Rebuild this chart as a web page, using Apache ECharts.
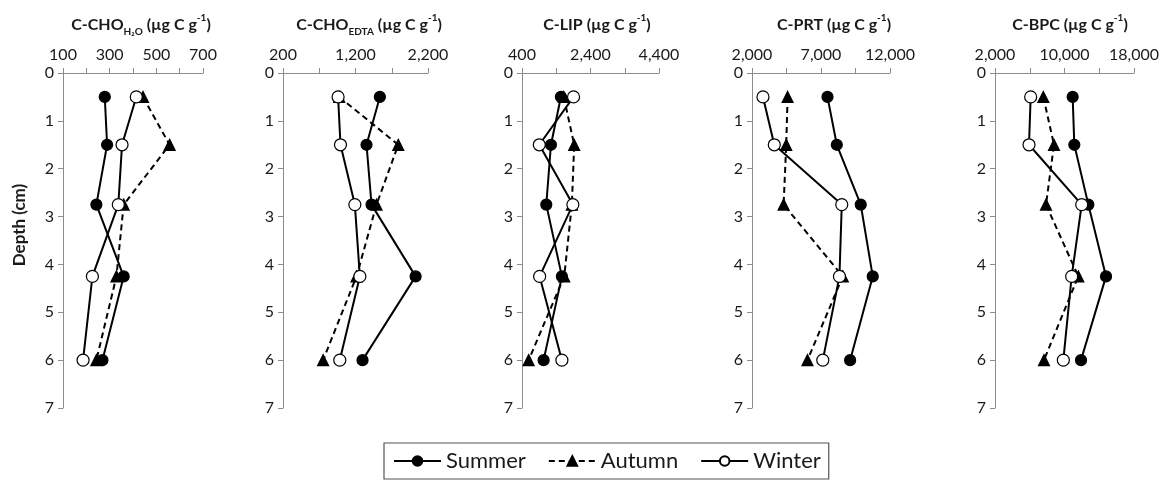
<!DOCTYPE html>
<html>
<head>
<meta charset="utf-8">
<script src="https://cdn.jsdelivr.net/npm/echarts@6/dist/echarts.min.js"></script>
<style>
  html, body { margin: 0; padding: 0; background: #fff; }
  #chart { width: 1174px; height: 485px; }
</style>
</head>
<body>
<div id="chart"></div>
<script>
// Sampling depths (cm)
const depths = [0.5, 1.5, 2.75, 4.25, 6];
const seasons = ['Summer', 'Autumn', 'Winter'];

// Carbon pools, µg C g-1, per season at each depth
const choH2O_summer = [279, 289, 243, 360, 269];
const choH2O_autumn = [443, 557, 360, 329, 243];
const choH2O_winter = [414, 353, 337, 226, 186];

const choEDTA_summer = [1536, 1352, 1421, 2029, 1297];
const choEDTA_autumn = [975, 1790, 1490, 1214, 753];
const choEDTA_winter = [960, 993, 1191, 1260, 983];

const lip_summer = [1536, 1245, 1109, 1565, 1031];
const lip_autumn = [1620, 1924, 1856, 1633, 594];
const lip_winter = [1905, 905, 1885, 915, 1565];

const prt_summer = [7470, 8145, 9880, 10750, 9110];
const prt_autumn = [4580, 4480, 4290, 8580, 6020];
const prt_winter = [2795, 3615, 8505, 8337, 7130];

const bpc_summer = [10940, 11130, 12745, 14780, 11900];
const bpc_autumn = [7565, 8790, 7870, 11590, 7640];
const bpc_winter = [6106, 5914, 11980, 10825, 9866];

// Axis ranges and label steps for each panel
const xMins = [100, 200, 400, 2000, 2000];
const xMaxs = [700, 2200, 4400, 12000, 18000];
const xSteps = [200, 1000, 2000, 5000, 8000];
const depthTicks = [0, 7, 1];

const panels = [
  { title: '{b|C-CHO}{s|H\u2082O}{b| (\u00b5g C g}{p|-1}{b|)}', data: [choH2O_summer, choH2O_autumn, choH2O_winter] },
  { title: '{b|C-CHO}{s|EDTA}{b| (\u00b5g C g}{p|-1}{b|)}', data: [choEDTA_summer, choEDTA_autumn, choEDTA_winter] },
  { title: '{b|C-LIP (\u00b5g C g}{p|-1}{b|)}', data: [lip_summer, lip_autumn, lip_winter] },
  { title: '{b|C-PRT (\u00b5g C g}{p|-1}{b|)}', data: [prt_summer, prt_autumn, prt_winter] },
  { title: '{b|C-BPC (\u00b5g C g}{p|-1}{b|)}', data: [bpc_summer, bpc_autumn, bpc_winter] }
];

// Panel placement (px)
const lefts = [63, 283, 522, 752, 995];
const widths = [140, 145, 137, 138, 139];
const titleCenters = [136, 364, 592, 829, 1065];
const FONT = 'Lato, "Open Sans", sans-serif';
const AXIS_GREY = '#8c8c8c';
const TEXT = '#1a1a1a';

const fmt = v => Number(v).toLocaleString('en-US');

const seasonStyles = {
  Summer: { symbol: 'circle', symbolSize: 11, fill: '#000', dash: 'solid' },
  Autumn: { symbol: 'triangle', symbolSize: 11, fill: '#000', dash: [6, 4] },
  Winter: { symbol: 'circle', symbolSize: 12, fill: '#fff', dash: 'solid' }
};

const grids = [], xAxes = [], yAxes = [], series = [], titles = [];

panels.forEach((p, i) => {
  grids.push({ left: lefts[i], width: widths[i], top: 73, height: 335 });

  xAxes.push({
    type: 'value', gridIndex: i, position: 'top',
    min: xMins[i], max: xMaxs[i], interval: xSteps[i],
    axisLine: { show: true, lineStyle: { color: AXIS_GREY, width: 1 } },
    axisTick: { show: true, length: 5, lineStyle: { color: AXIS_GREY } },
    minorTick: { show: true, splitNumber: 2, length: 5, lineStyle: { color: AXIS_GREY } },
    splitLine: { show: false },
    axisLabel: { color: TEXT, fontFamily: FONT, fontSize: 16, margin: 10, formatter: fmt, showMinLabel: true, showMaxLabel: true }
  });

  yAxes.push({
    type: 'value', gridIndex: i, inverse: true,
    min: depthTicks[0], max: depthTicks[1], interval: depthTicks[2],
    axisLine: { show: true, lineStyle: { color: AXIS_GREY, width: 1 } },
    axisTick: { show: true, length: 5, lineStyle: { color: AXIS_GREY } },
    splitLine: { show: false },
    axisLabel: { color: TEXT, fontFamily: FONT, fontSize: 16, margin: 9 }
  });

  titles.push({
    text: p.title, left: titleCenters[i], top: 8, textAlign: 'center',
    textStyle: {
      rich: {
        b: { fontFamily: FONT, fontSize: 16, fontWeight: 'bold', color: TEXT, lineHeight: 24 },
        s: { fontFamily: FONT, fontSize: 10, fontWeight: 'bold', color: TEXT, lineHeight: 24, verticalAlign: 'bottom' },
        p: { fontFamily: FONT, fontSize: 10, fontWeight: 'bold', color: TEXT, lineHeight: 24, verticalAlign: 'top' }
      }
    }
  });

  seasons.forEach((s, k) => {
    const st = seasonStyles[s];
    series.push({
      name: s, type: 'line', xAxisIndex: i, yAxisIndex: i,
      data: p.data[k].map((v, j) => [v, depths[j]]),
      symbol: st.symbol, symbolSize: st.symbolSize, showAllSymbol: true,
      lineStyle: { color: '#000', width: 2, type: st.dash },
      itemStyle: { color: st.fill, borderColor: '#000', borderWidth: 1.2 },
      emphasis: { disabled: true },
      animation: false, z: 2 + k
    });
  });
});

const chart = echarts.init(document.getElementById('chart'), null, { renderer: 'canvas' });
chart.setOption({
  backgroundColor: '#fff',
  animation: false,
  title: titles,
  grid: grids,
  xAxis: xAxes,
  yAxis: yAxes,
  graphic: [{
    type: 'text', x: 20, y: 225, rotation: Math.PI / 2,
    style: {
      text: 'Depth (cm)', fill: TEXT, font: 'bold 17px ' + FONT,
      textAlign: 'center', textVerticalAlign: 'middle'
    }
  }],
  legend: {
    data: seasons,
    left: 384, top: 443,
    itemWidth: 47, itemHeight: 12, itemGap: 22,
    padding: [7, 8, 7, 9],
    borderColor: '#555', borderWidth: 1.2,
    textStyle: { color: TEXT, fontFamily: FONT, fontSize: 22 },
    selectedMode: false
  },
  series: series
});
</script>
</body>
</html>
